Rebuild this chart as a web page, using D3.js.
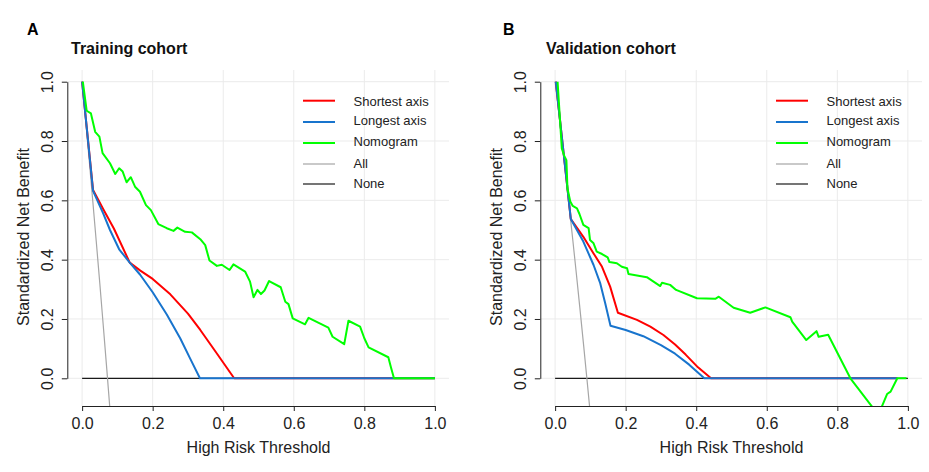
<!DOCTYPE html>
<html>
<head>
<meta charset="utf-8">
<script src="https://cdn.jsdelivr.net/npm/d3@7"></script>
<style>
  html, body { margin: 0; padding: 0; background: #fff; }
  svg { display: block; font-family: "Liberation Sans", Arial, Helvetica, sans-serif; }
</style>
</head>
<body>
<svg id="chart" width="929" height="472"></svg>
<script>
// ---------- data (threshold, standardized net benefit) ----------
const panelLetters = ["A", "B"];
const panelTitles = ["Training cohort", "Validation cohort"];
const seriesNames = ["Shortest axis", "Longest axis", "Nomogram", "All", "None"];
const xTicks = [0, 0.2, 0.4, 0.6, 0.8, 1.0];
const yTicks = [0, 0.2, 0.4, 0.6, 0.8, 1.0];
const xTitle = "High Risk Threshold";
const yTitle = "Standardized Net Benefit";

const trainShortest = [[0,1],[0.031,0.635],[0.06,0.57],[0.09,0.505],[0.135,0.39],[0.165,0.363],[0.2,0.335],[0.25,0.283],[0.3,0.218],[0.335,0.163],[0.38,0.087],[0.431,0],[1,0]];
const trainLongest = [[0,1],[0.031,0.632],[0.06,0.555],[0.079,0.5],[0.105,0.435],[0.135,0.39],[0.164,0.35],[0.2,0.29],[0.24,0.215],[0.278,0.135],[0.306,0.067],[0.334,0],[1,0]];
const trainNomogram = [[0.002,1],[0.013,0.902],[0.025,0.893],[0.037,0.831],[0.049,0.815],[0.058,0.759],[0.079,0.725],[0.094,0.689],[0.105,0.708],[0.115,0.697],[0.126,0.661],[0.138,0.678],[0.15,0.646],[0.164,0.629],[0.181,0.584],[0.195,0.567],[0.216,0.52],[0.24,0.506],[0.259,0.497],[0.27,0.508],[0.292,0.494],[0.311,0.492],[0.335,0.469],[0.349,0.449],[0.361,0.397],[0.382,0.379],[0.396,0.383],[0.418,0.365],[0.429,0.384],[0.462,0.36],[0.476,0.326],[0.486,0.273],[0.497,0.298],[0.507,0.284],[0.517,0.296],[0.53,0.328],[0.563,0.307],[0.576,0.258],[0.585,0.25],[0.597,0.202],[0.632,0.182],[0.642,0.204],[0.698,0.171],[0.71,0.14],[0.743,0.115],[0.755,0.194],[0.788,0.174],[0.8,0.135],[0.812,0.104],[0.868,0.071],[0.875,0.039],[0.884,0],[1,0]];
const trainAll = [[0,1],[0.01,0.87],[0.02,0.737],[0.03,0.601],[0.04,0.463],[0.05,0.322],[0.06,0.177],[0.07,0.03],[0.08,-0.121]];

const validShortest = [[0.002,1],[0.0445,0.537],[0.08,0.477],[0.109,0.421],[0.133,0.376],[0.156,0.309],[0.178,0.221],[0.232,0.197],[0.27,0.174],[0.307,0.146],[0.34,0.114],[0.37,0.08],[0.405,0.037],[0.442,0],[0.97,0]];
const validLongest = [[0.002,1],[0.0445,0.537],[0.08,0.461],[0.109,0.382],[0.128,0.32],[0.142,0.253],[0.157,0.177],[0.2,0.163],[0.25,0.142],[0.3,0.112],[0.34,0.083],[0.38,0.046],[0.423,0],[0.97,0]];
const validNomogram = [[0.007,1],[0.019,0.775],[0.026,0.75],[0.032,0.735],[0.035,0.64],[0.043,0.596],[0.05,0.581],[0.062,0.573],[0.069,0.554],[0.08,0.517],[0.095,0.506],[0.099,0.466],[0.109,0.455],[0.118,0.427],[0.133,0.419],[0.149,0.408],[0.154,0.392],[0.175,0.388],[0.189,0.376],[0.204,0.371],[0.208,0.352],[0.26,0.341],[0.298,0.311],[0.303,0.322],[0.326,0.315],[0.343,0.298],[0.402,0.27],[0.454,0.268],[0.464,0.275],[0.506,0.238],[0.553,0.221],[0.596,0.239],[0.667,0.206],[0.672,0.191],[0.712,0.129],[0.741,0.159],[0.747,0.14],[0.774,0.147],[0.837,0],[0.916,-0.123],[0.927,-0.093],[0.941,-0.053],[0.951,-0.045],[0.97,0],[0.996,0]];
const validAll = [[0,1],[0.01,0.898],[0.02,0.794],[0.03,0.687],[0.04,0.579],[0.05,0.468],[0.06,0.355],[0.07,0.239],[0.08,0.121],[0.09,0],[0.1,-0.123]];

const noneLine = [[0,0],[1,0]];

const seriesColors = ["#ff0000", "#1874cd", "#00ff00", "#a6a6a6", "#1a1a1a"];
const seriesWidths = [2, 2, 2, 1.2, 1.2];

// ---------- layout ----------
const panels = [
  { left: 68, right: 449, letterX: 27, titleX: 71,
    curves: [trainShortest, trainLongest, trainNomogram, trainAll, noneLine] },
  { left: 541, right: 922, letterX: 503, titleX: 546,
    curves: [validShortest, validLongest, validNomogram, validAll, noneLine] }
];
const plotTop = 70, plotBottom = 406;
const y0px = 378.3, y1px = 81.7;

const svg = d3.select("#chart");
const drawOrder = [4, 3, 0, 1, 2];
const legendLineY = [100.7, 122.0, 143.0, 164.0, 184.0];
const legendTextY = [105.7, 125.2, 145.5, 167.7, 187.7];

panels.forEach((p, i) => {
  const x0px = p.left + (p.right - p.left) * 0.04 / 1.08;
  const x1px = p.left + (p.right - p.left) * 1.04 / 1.08;
  const x = d3.scaleLinear().domain([0, 1]).range([x0px, x1px]);
  const y = d3.scaleLinear().domain([0, 1]).range([y0px, y1px]);
  const g = svg.append("g");

  // grid
  g.append("g").selectAll("line").data(xTicks).join("line")
    .attr("x1", d => x(d)).attr("x2", d => x(d))
    .attr("y1", plotTop).attr("y2", plotBottom)
    .attr("stroke", "#ebebeb").attr("stroke-width", 1);
  g.append("g").selectAll("line").data(yTicks).join("line")
    .attr("x1", p.left).attr("x2", p.right)
    .attr("y1", d => y(d)).attr("y2", d => y(d))
    .attr("stroke", "#ebebeb").attr("stroke-width", 1);

  // clip
  const clipId = "clip" + i;
  svg.append("clipPath").attr("id", clipId).append("rect")
    .attr("x", p.left).attr("y", plotTop)
    .attr("width", p.right - p.left).attr("height", plotBottom - plotTop);

  const line = d3.line().x(d => x(d[0])).y(d => y(d[1]));
  const cg = g.append("g").attr("clip-path", `url(#${clipId})`);
  drawOrder.forEach(k => {
    cg.append("path").datum(p.curves[k])
      .attr("d", line).attr("fill", "none")
      .attr("stroke", seriesColors[k]).attr("stroke-width", seriesWidths[k])
      .attr("stroke-linejoin", "round");
  });

  // axes
  const ax = g.append("g").attr("transform", `translate(0,${plotBottom})`)
    .call(d3.axisBottom(x).tickValues(xTicks).tickFormat(d3.format(".1f")).tickSize(5).tickSizeOuter(0));
  ax.select(".domain").attr("stroke", "#222");
  ax.selectAll(".tick line").attr("stroke", "#222");
  ax.selectAll(".tick text").attr("y", 23.3).attr("dy", 0)
    .attr("font-size", 16).attr("fill", "#222").attr("font-family", null);

  const ay = g.append("g").attr("transform", `translate(${p.left - 0.7},0)`)
    .call(d3.axisLeft(y).tickValues(yTicks).tickFormat(d3.format(".1f")).tickSize(5.5).tickSizeOuter(0));
  ay.select(".domain").attr("stroke", "#222");
  ay.selectAll(".tick line").attr("stroke", "#222");
  ay.selectAll(".tick text").attr("transform", "rotate(-90)")
    .attr("x", 0).attr("y", -14.5).attr("dy", 0).attr("text-anchor", "middle")
    .attr("font-size", 16).attr("fill", "#222").attr("font-family", null);

  // titles
  g.append("text").attr("x", p.letterX).attr("y", 35)
    .attr("font-size", 16).attr("font-weight", "bold").attr("fill", "#000")
    .text(panelLetters[i]);
  g.append("text").attr("x", p.titleX).attr("y", 54)
    .attr("font-size", 16).attr("font-weight", "bold").attr("fill", "#111")
    .text(panelTitles[i]);
  g.append("text").attr("x", (x0px + x1px) / 2).attr("y", 453)
    .attr("text-anchor", "middle").attr("font-size", 16).attr("fill", "#222")
    .text(xTitle);
  g.append("text")
    .attr("transform", `translate(${p.left - 39.5},237) rotate(-90)`)
    .attr("text-anchor", "middle").attr("font-size", 16).attr("fill", "#222")
    .text(yTitle);

  // legend
  const lg = g.append("g");
  seriesNames.forEach((name, k) => {
    lg.append("line")
      .attr("x1", p.left + 235).attr("x2", p.left + 267)
      .attr("y1", legendLineY[k]).attr("y2", legendLineY[k])
      .attr("stroke", seriesColors[k]).attr("stroke-width", seriesWidths[k]);
    lg.append("text").attr("x", p.left + 285.5).attr("y", legendTextY[k])
      .attr("font-size", 13).attr("fill", "#222").text(name);
  });
});
</script>
</body>
</html>
